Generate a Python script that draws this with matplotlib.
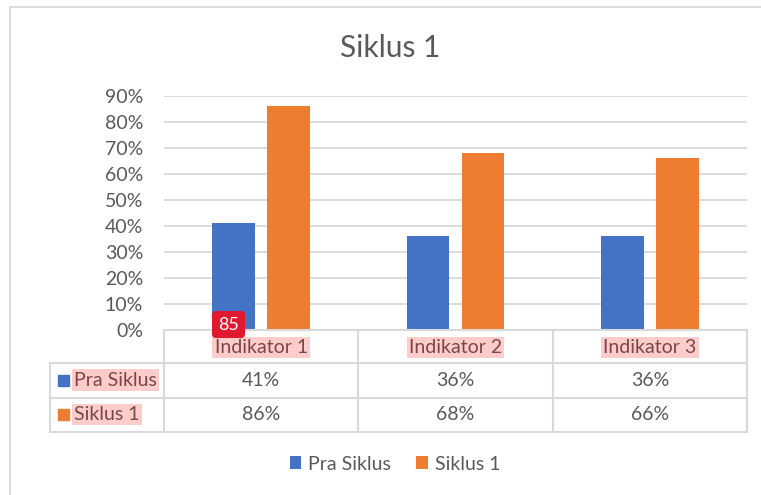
import matplotlib
matplotlib.use("Agg")
import matplotlib.pyplot as plt
from matplotlib.patches import Rectangle, FancyBboxPatch, Patch

# data
categories = ["Indikator 1", "Indikator 2", "Indikator 3"]
series_names = ["Pra Siklus", "Siklus 1"]
pra_siklus = [0.41, 0.36, 0.36]
siklus_1 = [0.86, 0.68, 0.66]
yticks = [0, 0.1, 0.2, 0.3, 0.4, 0.5, 0.6, 0.7, 0.8, 0.9]

BLUE = "#4472C4"
ORANGE = "#ED7D31"
GRID = "#D9D9D9"
TXT = "#595959"
HL_TXT = "#7A4747"
HL = "#FFCCCC"

plt.rcParams["font.family"] = ["Lato", "DejaVu Sans"]

W, H = 761, 495
fig = plt.figure(figsize=(W / 100, H / 100), dpi=100)

# plot area: x 164..747, y 96 (90%) .. 330 (0%)
left, right, top, base = 164, 747, 96, 330
ax = fig.add_axes([left / W, 1 - base / H, (right - left) / W, (base - top) / H])
ax.set_facecolor("none")
ax.set_zorder(1)

x = list(range(len(categories)))
bw = 0.22
off = 0.142
ax.bar([i - off for i in x], pra_siklus, width=bw, color=BLUE, zorder=3)
ax.bar([i + off for i in x], siklus_1, width=bw, color=ORANGE, zorder=3)
ax.set_xlim(-0.5, len(categories) - 0.5)
ax.set_ylim(0, 0.9)
ax.set_yticks(yticks)
ax.set_yticklabels([f"{int(round(t * 100))}%" for t in yticks])
ax.tick_params(axis="y", length=0, pad=15, labelsize=14, labelcolor=TXT)
ax.set_xticks([])
ax.grid(axis="y", color=GRID, linewidth=1.3, zorder=0)
for s in ax.spines.values():
    s.set_visible(False)

# overlay in pixel coordinates for the frame, table and annotations
ov = fig.add_axes([0, 0, 1, 1])
ov.set_xlim(0, W)
ov.set_ylim(H, 0)
ov.axis("off")
ov.set_zorder(2)

# title
ov.text(390, 48, "Siklus 1", ha="center", va="center", fontsize=21.5, color=TXT)

# chart frame (cropped, only left and top visible)
ov.plot([9.5, 9.5], [7, H], color=GRID, lw=1.3)
ov.plot([9.5, W], [7, 7], color=GRID, lw=1.3)

# data table
col_w = (right - left) / len(categories)
cols = [left + i * col_w for i in range(len(categories) + 1)]
rows = [base, 362.5, 397.5, 431.5]
tab_left = 50
lc = "#D9D9D9"
lw = 1.5
ov.plot([left, right], [rows[0], rows[0]], color=lc, lw=lw)
for yv in rows[1:]:
    ov.plot([tab_left, right], [yv, yv], color=lc, lw=lw)
for xv in cols:
    ov.plot([xv, xv], [rows[0], rows[-1]], color=lc, lw=lw)
ov.plot([tab_left, tab_left], [rows[1], rows[-1]], color=lc, lw=lw)

fs = 14
hl_box = dict(facecolor=HL, edgecolor="none", pad=1.5)
for i, cat in enumerate(categories):
    cx = (cols[i] + cols[i + 1]) / 2
    ov.text(cx, (rows[0] + rows[1]) / 2 + 1, cat, ha="center", va="center",
            fontsize=fs, color=HL_TXT, bbox=hl_box)
    ov.text(cx, (rows[1] + rows[2]) / 2, f"{int(round(pra_siklus[i] * 100))}%",
            ha="center", va="center", fontsize=fs, color=TXT)
    ov.text(cx, (rows[2] + rows[3]) / 2, f"{int(round(siklus_1[i] * 100))}%",
            ha="center", va="center", fontsize=fs, color=TXT)

for j, (name, col) in enumerate(zip(series_names, [BLUE, ORANGE])):
    cy = (rows[j + 1] + rows[j + 2]) / 2
    ov.add_patch(Rectangle((58, cy - 5.5), 11, 11, color=col))
    ov.text(74, cy, name, ha="left", va="center", fontsize=fs, color=HL_TXT,
            bbox=hl_box)

# red page badge
ov.add_patch(FancyBboxPatch((212, 311), 33, 27, boxstyle="round,pad=0,rounding_size=4",
                            facecolor="#E0192E", edgecolor="none", zorder=5))
ov.text(228.5, 325, "85", ha="center", va="center", fontsize=13, color="white", zorder=6)

# legend
handles = [Patch(facecolor=BLUE), Patch(facecolor=ORANGE)]
fig.legend(handles, series_names, loc="center", bbox_to_anchor=(395 / W, 1 - 464 / H),
           ncol=2, frameon=False, fontsize=14, labelcolor=TXT,
           handlelength=0.6, handleheight=0.6, handletextpad=0.35, columnspacing=1.3)

fig.savefig("out.png", dpi=100)
